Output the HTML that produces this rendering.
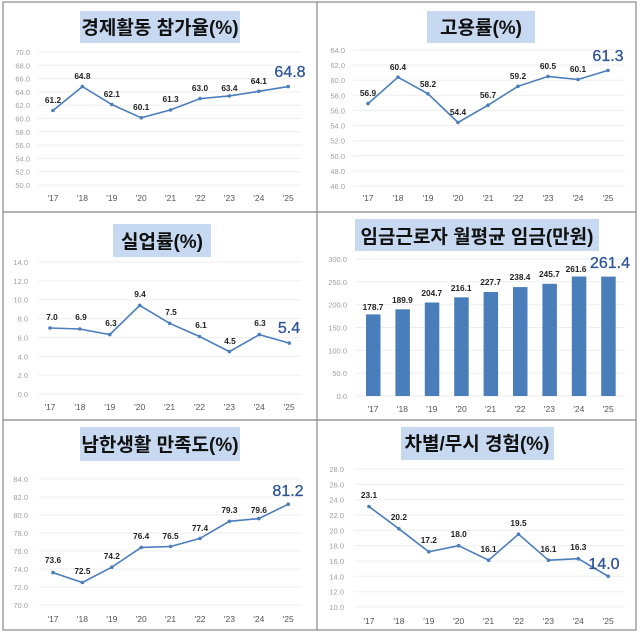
<!DOCTYPE html><html><head><meta charset="utf-8"><style>
body{margin:0;background:#fff}
svg{display:block;font-family:"Liberation Sans","Noto Sans CJK KR",sans-serif}
.t{font-size:19px;font-weight:bold;fill:#111;text-anchor:middle}
.ya{font-size:7.5px;fill:#a0a0a0;text-anchor:end}
.xa{font-size:8.5px;fill:#555;text-anchor:middle}
.d{font-size:8.3px;font-weight:bold;fill:#222;text-anchor:middle}
.h{font-size:16px;fill:#2e5597;text-anchor:middle;stroke:#2e5597;stroke-width:0.3}
.g{stroke:#eeeeee;stroke-width:1}
.l{fill:none;stroke:#4a7ebb;stroke-width:1.6}
.b{fill:#4a7ebb}
</style></head><body>
<svg width="640" height="633" viewBox="0 0 640 633">
<rect x="3" y="2" width="633" height="628" fill="none" stroke="#888" stroke-width="1.2"/>
<line x1="317" y1="2" x2="317" y2="630" stroke="#888" stroke-width="1.2"/>
<line x1="3" y1="212" x2="636" y2="212" stroke="#888" stroke-width="1.2"/>
<line x1="3" y1="420" x2="636" y2="420" stroke="#888" stroke-width="1.2"/>

<!-- Panel 1 -->
<rect x="80" y="11" width="160" height="32" fill="#c6d9f0"/>
<text class="t" x="160" y="34">경제활동 참가율(%)</text>
<g class="g"><line x1="38" x2="302" y1="52" y2="52"/><line x1="38" x2="302" y1="65.3" y2="65.3"/><line x1="38" x2="302" y1="78.6" y2="78.6"/><line x1="38" x2="302" y1="91.9" y2="91.9"/><line x1="38" x2="302" y1="105.2" y2="105.2"/><line x1="38" x2="302" y1="118.5" y2="118.5"/><line x1="38" x2="302" y1="131.8" y2="131.8"/><line x1="38" x2="302" y1="145.1" y2="145.1"/><line x1="38" x2="302" y1="158.4" y2="158.4"/><line x1="38" x2="302" y1="171.7" y2="171.7"/><line x1="38" x2="302" y1="185" y2="185"/></g>
<g class="ya"><text x="30" y="55">70.0</text><text x="30" y="68.3">68.0</text><text x="30" y="81.6">66.0</text><text x="30" y="94.9">64.0</text><text x="30" y="108.2">62.0</text><text x="30" y="121.5">60.0</text><text x="30" y="134.8">58.0</text><text x="30" y="148.1">56.0</text><text x="30" y="161.4">54.0</text><text x="30" y="174.7">52.0</text><text x="30" y="188">50.0</text></g>
<g class="xa"><text x="53" y="201">'17</text><text x="82.4" y="201">'18</text><text x="111.8" y="201">'19</text><text x="141.2" y="201">'20</text><text x="170.6" y="201">'21</text><text x="200" y="201">'22</text><text x="229.4" y="201">'23</text><text x="258.8" y="201">'24</text><text x="288.2" y="201">'25</text></g>
<polyline class="l" points="53,110.5 82.4,86.6 111.8,104.5 141.2,117.8 170.6,109.9 200,98.6 229.4,95.9 258.8,91.3 288.2,86.6"/>
<g fill="#4a7ebb"><circle cx="53" cy="110.5" r="1.8"/><circle cx="82.4" cy="86.6" r="1.8"/><circle cx="111.8" cy="104.5" r="1.8"/><circle cx="141.2" cy="117.8" r="1.8"/><circle cx="170.6" cy="109.9" r="1.8"/><circle cx="200" cy="98.6" r="1.8"/><circle cx="229.4" cy="95.9" r="1.8"/><circle cx="258.8" cy="91.3" r="1.8"/><circle cx="288.2" cy="86.6" r="1.8"/></g>
<g class="d"><text x="53" y="103">61.2</text><text x="82.4" y="79">64.8</text><text x="111.8" y="97">62.1</text><text x="141.2" y="110">60.1</text><text x="170.6" y="102">61.3</text><text x="200" y="91">63.0</text><text x="229.4" y="91">63.4</text><text x="258.8" y="84">64.1</text></g>
<text class="h" x="290" y="77">64.8</text>

<!-- Panel 2 -->
<rect x="427" y="11" width="108" height="32" fill="#c6d9f0"/>
<text class="t" x="481" y="34">고용률(%)</text>
<g class="g"><line x1="353" x2="625" y1="50" y2="50"/><line x1="353" x2="625" y1="65.1" y2="65.1"/><line x1="353" x2="625" y1="80.2" y2="80.2"/><line x1="353" x2="625" y1="95.3" y2="95.3"/><line x1="353" x2="625" y1="110.4" y2="110.4"/><line x1="353" x2="625" y1="125.6" y2="125.6"/><line x1="353" x2="625" y1="140.7" y2="140.7"/><line x1="353" x2="625" y1="155.8" y2="155.8"/><line x1="353" x2="625" y1="170.9" y2="170.9"/><line x1="353" x2="625" y1="186" y2="186"/></g>
<g class="ya"><text x="345" y="53">64.0</text><text x="345" y="68.1">62.0</text><text x="345" y="83.2">60.0</text><text x="345" y="98.3">58.0</text><text x="345" y="113.4">56.0</text><text x="345" y="128.6">54.0</text><text x="345" y="143.7">52.0</text><text x="345" y="158.8">50.0</text><text x="345" y="173.9">48.0</text><text x="345" y="189">46.0</text></g>
<g class="xa"><text x="368" y="201">'17</text><text x="398" y="201">'18</text><text x="428" y="201">'19</text><text x="458" y="201">'20</text><text x="488" y="201">'21</text><text x="518" y="201">'22</text><text x="548" y="201">'23</text><text x="578" y="201">'24</text><text x="608" y="201">'25</text></g>
<polyline class="l" points="368,103.6 398,77.2 428,93.8 458,122.5 488,105.2 518,86.3 548,76.4 578,79.5 608,70.4"/>
<g fill="#4a7ebb"><circle cx="368" cy="103.6" r="1.8"/><circle cx="398" cy="77.2" r="1.8"/><circle cx="428" cy="93.8" r="1.8"/><circle cx="458" cy="122.5" r="1.8"/><circle cx="488" cy="105.2" r="1.8"/><circle cx="518" cy="86.3" r="1.8"/><circle cx="548" cy="76.4" r="1.8"/><circle cx="578" cy="79.5" r="1.8"/><circle cx="608" cy="70.4" r="1.8"/></g>
<g class="d"><text x="368" y="96">56.9</text><text x="398" y="70">60.4</text><text x="428" y="87">58.2</text><text x="458" y="115">54.4</text><text x="488" y="98">56.7</text><text x="518" y="79">59.2</text><text x="548" y="69">60.5</text><text x="578" y="72">60.1</text></g>
<text class="h" x="608" y="61">61.3</text>

<!-- Panel 3 -->
<rect x="113" y="224" width="98" height="33" fill="#c6d9f0"/>
<text class="t" x="162" y="248">실업률(%)</text>
<g class="g"><line x1="38" x2="302" y1="262" y2="262"/><line x1="38" x2="302" y1="280.9" y2="280.9"/><line x1="38" x2="302" y1="299.7" y2="299.7"/><line x1="38" x2="302" y1="318.6" y2="318.6"/><line x1="38" x2="302" y1="337.4" y2="337.4"/><line x1="38" x2="302" y1="356.3" y2="356.3"/><line x1="38" x2="302" y1="375.1" y2="375.1"/><line x1="38" x2="302" y1="394" y2="394"/></g>
<g class="ya"><text x="28" y="265">14.0</text><text x="28" y="283.9">12.0</text><text x="28" y="302.7">10.0</text><text x="28" y="321.6">8.0</text><text x="28" y="340.4">6.0</text><text x="28" y="359.3">4.0</text><text x="28" y="378.1">2.0</text><text x="28" y="397">0.0</text></g>
<g class="xa"><text x="50" y="410">'17</text><text x="79.9" y="410">'18</text><text x="109.8" y="410">'19</text><text x="139.7" y="410">'20</text><text x="169.6" y="410">'21</text><text x="199.5" y="410">'22</text><text x="229.4" y="410">'23</text><text x="259.3" y="410">'24</text><text x="289.2" y="410">'25</text></g>
<polyline class="l" points="50,328 79.9,329 109.8,334.6 139.7,305.4 169.6,323.3 199.5,336.5 229.4,351.6 259.3,334.6 289.2,343.1"/>
<g fill="#4a7ebb"><circle cx="50" cy="328" r="1.8"/><circle cx="79.9" cy="329" r="1.8"/><circle cx="109.8" cy="334.6" r="1.8"/><circle cx="139.7" cy="305.4" r="1.8"/><circle cx="169.6" cy="323.3" r="1.8"/><circle cx="199.5" cy="336.5" r="1.8"/><circle cx="229.4" cy="351.6" r="1.8"/><circle cx="259.3" cy="334.6" r="1.8"/><circle cx="289.2" cy="343.1" r="1.8"/></g>
<g class="d"><text x="52" y="320">7.0</text><text x="81" y="320">6.9</text><text x="111" y="326">6.3</text><text x="140" y="297">9.4</text><text x="171" y="315">7.5</text><text x="201" y="328">6.1</text><text x="230" y="344">4.5</text><text x="260" y="326">6.3</text></g>
<text class="h" x="289" y="333">5.4</text>

<!-- Panel 4 -->
<rect x="355" y="219" width="244" height="32" fill="#c6d9f0"/>
<text class="t" x="477" y="243">임금근로자 월평균 임금(만원)</text>
<g class="g"><line x1="356" x2="625" y1="259" y2="259"/><line x1="356" x2="625" y1="281.8" y2="281.8"/><line x1="356" x2="625" y1="304.7" y2="304.7"/><line x1="356" x2="625" y1="327.5" y2="327.5"/><line x1="356" x2="625" y1="350.3" y2="350.3"/><line x1="356" x2="625" y1="373.2" y2="373.2"/><line x1="356" x2="625" y1="396" y2="396"/></g>
<g class="ya"><text x="347" y="262">300.0</text><text x="347" y="284.8">250.0</text><text x="347" y="307.7">200.0</text><text x="347" y="330.5">150.0</text><text x="347" y="353.3">100.0</text><text x="347" y="376.2">50.0</text><text x="347" y="399">0.0</text></g>
<g class="b"><rect x="366" y="314.4" width="14.5" height="81.6"/><rect x="395.4" y="309.3" width="14.5" height="86.7"/><rect x="424.8" y="302.5" width="14.5" height="93.5"/><rect x="454.2" y="297.3" width="14.5" height="98.7"/><rect x="483.6" y="292" width="14.5" height="104"/><rect x="513" y="287.1" width="14.5" height="108.9"/><rect x="542.4" y="283.8" width="14.5" height="112.2"/><rect x="571.8" y="276.5" width="14.5" height="119.5"/><rect x="601.2" y="276.6" width="14.5" height="119.4"/></g>
<g class="xa"><text x="373" y="412">'17</text><text x="402.4" y="412">'18</text><text x="431.8" y="412">'19</text><text x="461.2" y="412">'20</text><text x="490.6" y="412">'21</text><text x="520" y="412">'22</text><text x="549.4" y="412">'23</text><text x="578.8" y="412">'24</text><text x="608.2" y="412">'25</text></g>
<g class="d"><text x="373" y="310">178.7</text><text x="402.4" y="303">189.9</text><text x="431.8" y="296">204.7</text><text x="461.2" y="291">216.1</text><text x="490.6" y="285">227.7</text><text x="520" y="280">238.4</text><text x="549.4" y="277">245.7</text><text x="576" y="272">261.6</text></g>
<text class="h" x="610" y="268">261.4</text>

<!-- Panel 5 -->
<rect x="80" y="427" width="160" height="34" fill="#c6d9f0"/>
<text class="t" x="160" y="451">남한생활 만족도(%)</text>
<g class="g"><line x1="39" x2="302" y1="479" y2="479"/><line x1="39" x2="302" y1="497" y2="497"/><line x1="39" x2="302" y1="515" y2="515"/><line x1="39" x2="302" y1="533" y2="533"/><line x1="39" x2="302" y1="551" y2="551"/><line x1="39" x2="302" y1="569" y2="569"/><line x1="39" x2="302" y1="587" y2="587"/><line x1="39" x2="302" y1="605" y2="605"/></g>
<g class="ya"><text x="28" y="482">84.0</text><text x="28" y="500">82.0</text><text x="28" y="518">80.0</text><text x="28" y="536">78.0</text><text x="28" y="554">76.0</text><text x="28" y="572">74.0</text><text x="28" y="590">72.0</text><text x="28" y="608">70.0</text></g>
<g class="xa"><text x="53" y="622">'17</text><text x="82.4" y="622">'18</text><text x="111.8" y="622">'19</text><text x="141.2" y="622">'20</text><text x="170.6" y="622">'21</text><text x="200" y="622">'22</text><text x="229.4" y="622">'23</text><text x="258.8" y="622">'24</text><text x="288.2" y="622">'25</text></g>
<polyline class="l" points="53,572.6 82.4,582.5 111.8,567.2 141.2,547.4 170.6,546.5 200,538.4 229.4,521.3 258.8,518.6 288.2,504.2"/>
<g fill="#4a7ebb"><circle cx="53" cy="572.6" r="1.8"/><circle cx="82.4" cy="582.5" r="1.8"/><circle cx="111.8" cy="567.2" r="1.8"/><circle cx="141.2" cy="547.4" r="1.8"/><circle cx="170.6" cy="546.5" r="1.8"/><circle cx="200" cy="538.4" r="1.8"/><circle cx="229.4" cy="521.3" r="1.8"/><circle cx="258.8" cy="518.6" r="1.8"/><circle cx="288.2" cy="504.2" r="1.8"/></g>
<g class="d"><text x="53" y="563">73.6</text><text x="82.4" y="574">72.5</text><text x="111.8" y="559">74.2</text><text x="141.2" y="539">76.4</text><text x="170.6" y="539">76.5</text><text x="200" y="531">77.4</text><text x="229.4" y="513">79.3</text><text x="258.8" y="513">79.6</text></g>
<text class="h" x="288" y="496">81.2</text>

<!-- Panel 6 -->
<rect x="401" y="427" width="153" height="33" fill="#c6d9f0"/>
<text class="t" x="477" y="450">차별/무시 경험(%)</text>
<g class="g"><line x1="354" x2="625" y1="469" y2="469"/><line x1="354" x2="625" y1="484.3" y2="484.3"/><line x1="354" x2="625" y1="499.7" y2="499.7"/><line x1="354" x2="625" y1="515" y2="515"/><line x1="354" x2="625" y1="530.3" y2="530.3"/><line x1="354" x2="625" y1="545.7" y2="545.7"/><line x1="354" x2="625" y1="561" y2="561"/><line x1="354" x2="625" y1="576.3" y2="576.3"/><line x1="354" x2="625" y1="591.7" y2="591.7"/><line x1="354" x2="625" y1="607" y2="607"/></g>
<g class="ya"><text x="344" y="472">28.0</text><text x="344" y="487.3">26.0</text><text x="344" y="502.7">24.0</text><text x="344" y="518">22.0</text><text x="344" y="533.3">20.0</text><text x="344" y="548.7">18.0</text><text x="344" y="564">16.0</text><text x="344" y="579.3">14.0</text><text x="344" y="594.7">12.0</text><text x="344" y="610">10.0</text></g>
<g class="xa"><text x="369" y="624">'17</text><text x="398.9" y="624">'18</text><text x="428.8" y="624">'19</text><text x="458.7" y="624">'20</text><text x="488.6" y="624">'21</text><text x="518.5" y="624">'22</text><text x="548.4" y="624">'23</text><text x="578.3" y="624">'24</text><text x="608.2" y="624">'25</text></g>
<polyline class="l" points="369,506.6 398.9,528.8 428.8,551.8 458.7,545.7 488.6,560.2 518.5,534.2 548.4,560.2 578.3,558.7 608.2,576.3"/>
<g fill="#4a7ebb"><circle cx="369" cy="506.6" r="1.8"/><circle cx="398.9" cy="528.8" r="1.8"/><circle cx="428.8" cy="551.8" r="1.8"/><circle cx="458.7" cy="545.7" r="1.8"/><circle cx="488.6" cy="560.2" r="1.8"/><circle cx="518.5" cy="534.2" r="1.8"/><circle cx="548.4" cy="560.2" r="1.8"/><circle cx="578.3" cy="558.7" r="1.8"/><circle cx="608.2" cy="576.3" r="1.8"/></g>
<g class="d"><text x="369" y="498">23.1</text><text x="398.9" y="520">20.2</text><text x="428.8" y="543">17.2</text><text x="458.7" y="537">18.0</text><text x="488.6" y="552">16.1</text><text x="518.5" y="526">19.5</text><text x="548.4" y="552">16.1</text><text x="578.3" y="550">16.3</text></g>
<text class="h" x="604" y="569">14.0</text>
</svg>
</body></html>
